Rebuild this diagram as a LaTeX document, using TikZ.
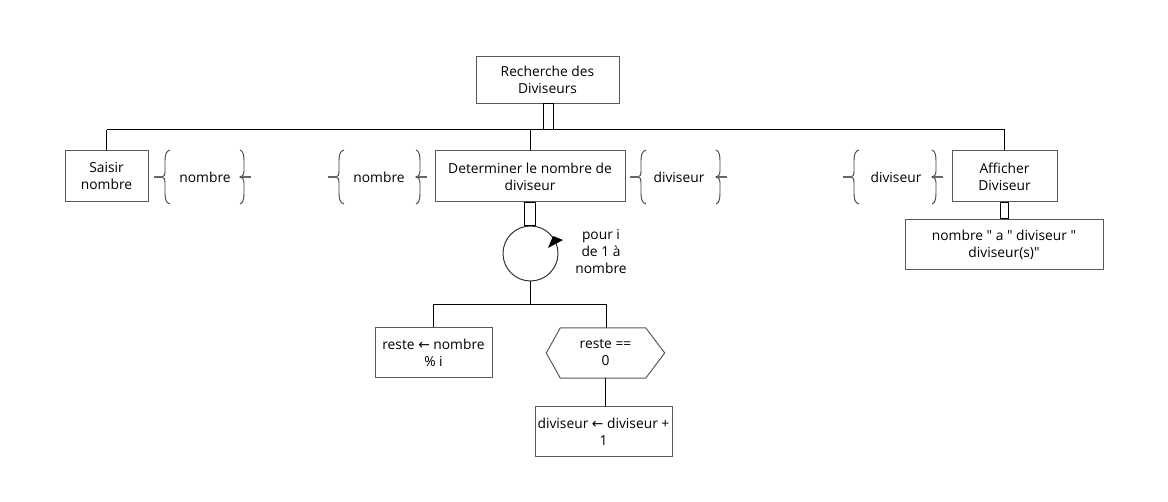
\documentclass[tikz,border=0pt]{standalone}
\usepackage{fontspec}
\setmainfont{Open Sans}[Ligatures=TeXOff]
\newfontfamily\symf{DejaVu Sans}
\usetikzlibrary{calc}
\begin{document}
\begin{tikzpicture}[x=1pt,y=-1pt,
  font=\fontsize{13.8}{17}\selectfont,
  box/.style={draw=black!65, line width=1pt, align=center, inner sep=0pt, text=black},
  ln/.style={draw=black, line width=1pt},
  brc/.style={draw=black!75, line width=0.9pt},
  mk/.style={draw=black!60, line width=2.4pt},
  lbl/.style={align=center, inner sep=0pt, text=black},
  lbr/.pic={
    \draw[brc] (5,-27) .. controls (1,-26) and (0,-22) .. (0,-16) -- (0,-6) .. controls (0,-2) and (-1,0) .. (-3,0) .. controls (-1,0) and (0,2) .. (0,6) -- (0,16) .. controls (0,22) and (1,26) .. (5,27);
    \draw[mk] (-11,0) -- (-2,0);
  },
  rbr/.pic={
    \draw[brc] (-4,-27) .. controls (-1,-26) and (0,-22) .. (0,-16) -- (0,-6) .. controls (0,-2) and (-2,0) .. (-4,0) .. controls (-2,0) and (0,2) .. (0,6) -- (0,16) .. controls (0,22) and (-1,26) .. (-4,27);
    \draw[mk] (-2,0) -- (7,0);
  }]
\useasboundingbox (0,0) rectangle (1168,502);

% main nodes
\node[box, minimum width=143pt, minimum height=47pt] (root) at (547.5,80) {Recherche des\\Diviseurs};
\node[box, minimum width=83pt, minimum height=51pt] (saisir) at (106.5,176.5) {Saisir\\nombre};
\node[box, minimum width=190pt, minimum height=51pt] (det) at (530,176.5) {Determiner le nombre de\\diviseur};
\node[box, minimum width=105pt, minimum height=51pt] (aff) at (1004.5,176.5) {Afficher\\Diviseur};
\node[box, minimum width=198pt, minimum height=50pt] (out) at (1004,244.5) {nombre " a " diviseur "\\diviseur(s)"};
\node[draw=black!80, line width=1pt, circle, minimum size=55pt, inner sep=0pt] (loop) at (530.5,253.5) {};
\node[lbl] (pour) at (601,252) {pour i\\de 1 à\\nombre};
\node[box, minimum width=117pt, minimum height=50pt] (reste) at (433.5,353) {reste {\symf ←} nombre\\\% i};
\node[lbl, minimum width=118pt, minimum height=50pt] (hex) at (605.5,353) {reste ==\\0};
\node[box, minimum width=137pt, minimum height=50pt] (inc) at (603.5,432) {diviseur {\symf ←} diviseur +\\1};

% data labels with braces
\node[lbl] (d1) at (205,177) {nombre};
\node[lbl] (d2) at (379,177) {nombre};
\node[lbl] (d3) at (679,177) {diviseur};
\node[lbl] (d4) at (896,177) {diviseur};
\pic at (165,177) {lbr};
\pic at (244,177) {rbr};
\pic at (339,177) {lbr};
\pic at (420,177) {rbr};
\pic at (641,177) {lbr};
\pic at (720,177) {rbr};
\pic at (854,177) {lbr};
\pic at (936,177) {rbr};

% hexagon outline
\draw[box] (hex.west) -- ($(hex.north west)+(14,0)$) -- ($(hex.north east)+(-19,0)$) -- (hex.east)
  -- ($(hex.south east)+(-19,0)$) -- ($(hex.south west)+(14,0)$) -- cycle;

% bus
\coordinate (busL) at (106.5,130);
\coordinate (busR) at (1004.5,130);
\draw[ln] (busL) -- (busR);
\draw[ln] (saisir.north) -- (saisir.north |- busL);
\draw[ln] (det.north) -- (det.north |- busL);
\draw[ln] (aff.north) -- (aff.north |- busL);
\draw[ln, fill=white] ($(root.south)+(-4.5,0)$) rectangle ($(root.south |- busL)+(5.5,0)$);

% double links
\draw[ln] ($(det.south)+(-6,0)$) rectangle ($(loop.north)+(5,0)$);
\draw[ln] ($(aff.south)+(-4.5,0)$) rectangle ($(out.north)+(4.5,0)$);

% loop arrow
\fill ($(loop.center)+(22.5,-17.5)$) -- ($(loop.center)+(32.5,-13.5)$) -- ($(loop.center)+(17.5,-5.5)$) -- cycle;

% sub tree
\coordinate (sub) at (530.5,305);
\draw[ln] (loop.south) -- (sub);
\draw[ln] (reste.north) -- (reste.north |- sub) -- ($(hex.north |- sub)+(1,0)$) -- ($(hex.north)+(1,0)$);
\draw[ln] (hex.south) -- (hex.south |- inc.north);
\end{tikzpicture}
\end{document}
